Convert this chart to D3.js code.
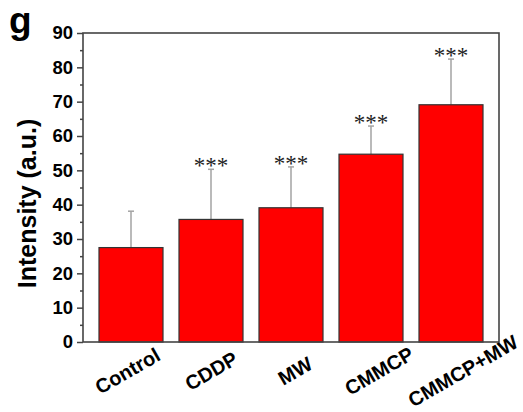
<!DOCTYPE html>
<html>
<head>
<meta charset="utf-8">
<script src="https://cdn.jsdelivr.net/npm/d3@7"></script>
<style>
  body { margin: 0; background: #fff; }
  svg { display: block; }
</style>
</head>
<body>
<div id="chart"></div>
<script>
// data
const categories = ["Control", "CDDP", "MW", "CMMCP", "CMMCP+MW"];
const means = [27.5, 35.7, 39.1, 54.7, 69.1];
const errors = [10.6, 14.6, 11.9, 8.2, 13.3];
const stars = ["", "***", "***", "***", "***"];
const yTicks = [0, 10, 20, 30, 40, 50, 60, 70, 80, 90];
const yMinorTicks = [5, 15, 25, 35, 45, 55, 65, 75, 85];

const W = 523, H = 412;
const margin = { top: 33, right: 24, bottom: 70, left: 83 };
const width = W - margin.left - margin.right,
  height = H - margin.top - margin.bottom;

const svg = d3
  .select("#chart")
  .append("svg")
  .attr("width", W)
  .attr("height", H);

const g = svg
  .append("g")
  .attr("transform", `translate(${margin.left},${margin.top})`);

const x = d3
  .scaleBand()
  .domain(categories)
  .range([0, width])
  .paddingInner(0.2)
  .paddingOuter(0.2);

// the rotated labels sit on a slightly wider spacing than the bars
const firstC = x(categories[0]) + x.bandwidth() / 2,
  lastC = x(categories[categories.length - 1]) + x.bandwidth() / 2;
const xLabel = d3
  .scalePoint()
  .domain(categories)
  .range([firstC - 3.5, lastC + 12]);

const y = d3.scaleLinear().domain([0, 90]).range([height, 0]);

const data = categories.map((c, i) => ({
  cat: c,
  mean: means[i],
  err: errors[i],
  star: stars[i],
}));

// error bars (drawn under the bars, only upper half visible)
const capW = 6;
g.selectAll(".err")
  .data(data)
  .join("g")
  .attr("class", "err")
  .each(function (d) {
    const cx = x(d.cat) + x.bandwidth() / 2;
    const sel = d3.select(this);
    sel
      .append("line")
      .attr("x1", cx)
      .attr("x2", cx)
      .attr("y1", y(d.mean))
      .attr("y2", y(d.mean + d.err))
      .attr("stroke", "#a3a3a3")
      .attr("stroke-width", 1.5);
    sel
      .append("line")
      .attr("x1", cx - capW / 2)
      .attr("x2", cx + capW / 2)
      .attr("y1", y(d.mean + d.err))
      .attr("y2", y(d.mean + d.err))
      .attr("stroke", "#a3a3a3")
      .attr("stroke-width", 1.5);
  });

// bars
g.selectAll(".bar")
  .data(data)
  .join("rect")
  .attr("class", "bar")
  .attr("x", (d) => x(d.cat))
  .attr("y", (d) => y(d.mean))
  .attr("width", x.bandwidth())
  .attr("height", (d) => height - y(d.mean))
  .attr("fill", "#ff0000")
  .attr("stroke", "#333")
  .attr("stroke-width", 1.2);

// significance stars
g.selectAll(".star")
  .data(data.filter((d) => d.star))
  .join("text")
  .attr("class", "star")
  .attr("x", (d) => x(d.cat) + x.bandwidth() / 2)
  .attr("y", (d) => y(d.mean + d.err) + 4)
  .attr("text-anchor", "middle")
  .attr("font-family", "'Liberation Serif', 'Times New Roman', serif")
  .attr("font-size", 23)
  .attr("fill", "#222")
  .text((d) => d.star);

// frame
g.append("rect")
  .attr("x", 0)
  .attr("y", 0)
  .attr("width", width)
  .attr("height", height)
  .attr("fill", "none")
  .attr("stroke", "#444")
  .attr("stroke-width", 1.6);

// y axis
const yAxis = g
  .append("g")
  .call(
    d3
      .axisLeft(y)
      .tickValues(yTicks)
      .tickSize(6)
      .tickPadding(4)
      .tickFormat(d3.format("d"))
  );
yAxis.select(".domain").remove();
yAxis.selectAll(".tick line").attr("stroke", "#444").attr("stroke-width", 1.5);
yAxis
  .selectAll(".tick text")
  .attr("font-family", "'Liberation Sans', Arial, sans-serif")
  .attr("font-weight", "bold")
  .attr("font-size", 18.5)
  .attr("fill", "#000");

const yMinor = g
  .append("g")
  .call(d3.axisLeft(y).tickValues(yMinorTicks).tickSize(3).tickFormat(""));
yMinor.select(".domain").remove();
yMinor.selectAll(".tick line").attr("stroke", "#444").attr("stroke-width", 1.5);

// x labels, rotated
g.selectAll(".xlab")
  .data(categories)
  .join("text")
  .attr("class", "xlab")
  .attr("transform", (d) => `translate(${xLabel(d)},${height + 29}) rotate(-30)`)
  .attr("text-anchor", "middle")
  .attr("dominant-baseline", "central")
  .attr("font-family", "'Liberation Sans', Arial, sans-serif")
  .attr("font-weight", "bold")
  .attr("font-size", 20)
  .attr("fill", "#000")
  .text((d) => d);

// y axis title
svg
  .append("text")
  .attr("transform", `translate(36,${margin.top + height / 2 + 16}) rotate(-90)`)
  .attr("text-anchor", "middle")
  .attr("font-family", "'Liberation Sans', Arial, sans-serif")
  .attr("font-weight", "bold")
  .attr("font-size", 25)
  .attr("fill", "#000")
  .text("Intensity (a.u.)");

// panel letter
svg
  .append("text")
  .attr("x", 9)
  .attr("y", 33)
  .attr("font-family", "'Liberation Sans', Arial, sans-serif")
  .attr("font-weight", "bold")
  .attr("font-size", 37)
  .attr("fill", "#000")
  .text("g");
</script>
</body>
</html>
